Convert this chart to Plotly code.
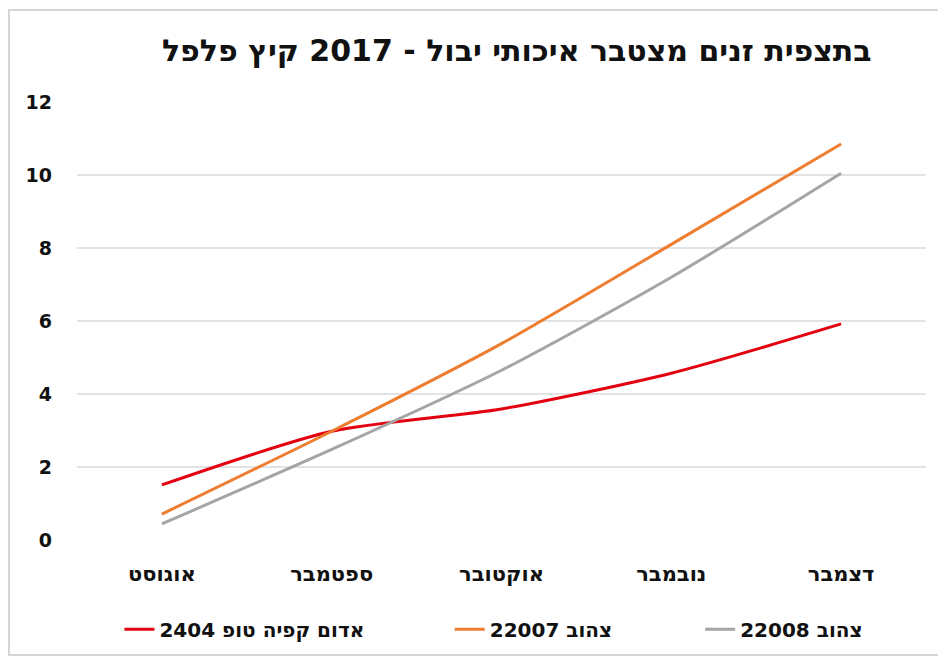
import plotly.graph_objects as go

months = ["אוגוסט", "ספטמבר", "אוקטובר", "נובמבר", "דצמבר"]
red_name = "אדום קפיה טופ 2404"
orange_name = "צהוב 22007"
gray_name = "צהוב 22008"
red_vals = [1.51, 2.98, 3.59, 4.57, 5.92]
orange_vals = [0.71, 2.98, 5.38, 8.10, 10.85]
gray_vals = [0.44, 2.48, 4.65, 7.20, 10.05]
y_ticks = [0, 2, 4, 6, 8, 10, 12]
title_text = "בתצפית זנים מצטבר איכותי יבול - 2017 קיץ פלפל"

FONT = "DejaVu Sans, Liberation Sans, sans-serif"

L, R, T, B = 69, 28, 94, 132
PW = 946 - L - R
PH = 664 - T - B

fig = go.Figure()
series = [
    (red_name, red_vals, "#e3000f", "legend"),
    (orange_name, orange_vals, "#ed7d31", "legend2"),
    (gray_name, gray_vals, "#a5a5a5", "legend3"),
]
for name, vals, color, lg in series:
    fig.add_trace(go.Scatter(
        x=months, y=vals, name=name, mode="lines",
        line=dict(color=color, width=3, shape="spline", smoothing=0.7),
        legend=lg, showlegend=True,
    ))

leg_common = dict(orientation="h", yanchor="middle", y=-0.204, xanchor="left",
                  font=dict(family=FONT, size=20, color="#111111", weight="bold"),
                  bgcolor="rgba(0,0,0,0)")
fig.update_layout(
    width=946, height=664,
    showlegend=True,
    margin=dict(l=L, r=R, t=T, b=B),
    paper_bgcolor="white", plot_bgcolor="white",
    title=dict(text=title_text, x=0.518, xref="paper", y=1 - 42 / 664, yref="container",
               xanchor="center", yanchor="middle",
               font=dict(family=FONT, size=30, color="#111111", weight="bold")),
    font=dict(family=FONT, color="#111111"),
    legend=dict(x=0.05, **leg_common),
    legend2=dict(x=0.439, **leg_common),
    legend3=dict(x=0.734, **leg_common),
    xaxis=dict(type="category", range=[-0.5, 4.5], showgrid=False, showline=False,
               zeroline=False, ticks="", ticklabelstandoff=19,
               tickfont=dict(family=FONT, size=21, color="#111111", weight="bold")),
    yaxis=dict(range=[0, 12], tickvals=y_ticks, showgrid=True, gridcolor="#e3e3e3",
               gridwidth=1.5, zeroline=False, showline=False, ticks="",
               ticklabelstandoff=24,
               tickfont=dict(family=FONT, size=19, color="#111111", weight="bold")),
    shapes=[dict(type="rect", xref="paper", yref="paper",
                 x0=(1 - L) / PW, x1=(960 - L) / PW,
                 y0=(T + PH - 647) / PH, y1=(T + PH - 2) / PH,
                 line=dict(color="#d6d6d6", width=2), fillcolor="rgba(0,0,0,0)",
                 layer="below")],
)

fig.write_html("out.html")
